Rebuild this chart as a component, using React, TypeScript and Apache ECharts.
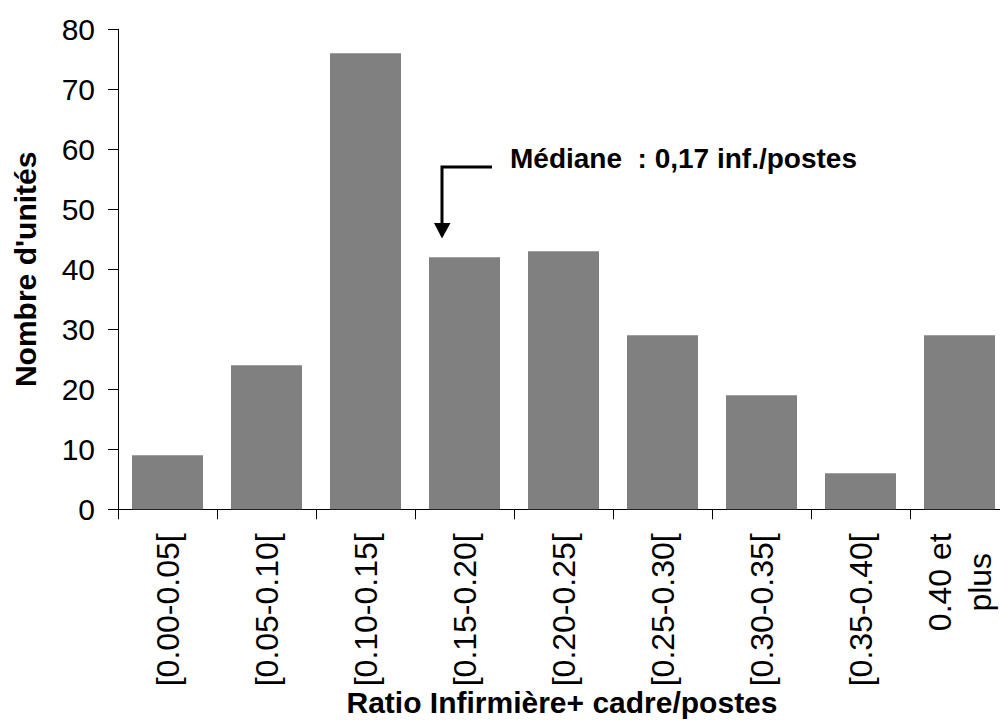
import React, { useEffect, useRef } from "react";
import * as echarts from "echarts";

const categories = [
  "[0.00-0.05[",
  "[0.05-0.10[",
  "[0.10-0.15[",
  "[0.15-0.20[",
  "[0.20-0.25[",
  "[0.25-0.30[",
  "[0.30-0.35[",
  "[0.35-0.40[",
  "0.40 et\nplus",
];
const counts = [9, 24, 76, 42, 43, 29, 19, 6, 29];
const yMin = 0;
const yMax = 80;
const yStep = 10;
const xTitle = "Ratio Infirmière+ cadre/postes";
const yTitle = "Nombre d'unités";
const medianNote = "Médiane  : 0,17 inf./postes";

const FONT = "'Liberation Sans', Arial, Helvetica, sans-serif";

export default function App() {
  const ref = useRef<HTMLDivElement>(null);

  useEffect(() => {
    if (!ref.current) return;
    const chart = echarts.init(ref.current, undefined, { renderer: "svg" });
    chart.setOption({
      animation: false,
      backgroundColor: "#ffffff",
      textStyle: { fontFamily: FONT },
      grid: {
        left: 118,
        top: 29.3,
        width: 891,
        height: 480,
        containLabel: false,
        outerBoundsMode: "none",
      },
      xAxis: {
        type: "category",
        data: categories,
        boundaryGap: true,
        axisLine: { show: true, lineStyle: { color: "#000", width: 1 } },
        axisTick: {
          show: true,
          length: 10,
          alignWithLabel: false,
          lineStyle: { color: "#000", width: 1 },
        },
        axisLabel: {
          interval: 0,
          rotate: 90,
          margin: 24,
          color: "#000",
          fontFamily: FONT,
          fontSize: 32,
          lineHeight: 40,
          formatter: (v: string) =>
            v
              .split("\n")
              .map((l) => `{c|${l}}`)
              .join("\n"),
          rich: {
            c: {
              align: "center",
              fontFamily: FONT,
              fontSize: 32,
              lineHeight: 40,
              color: "#000",
            },
          },
        },
        splitLine: { show: false },
      },
      yAxis: {
        type: "value",
        min: yMin,
        max: yMax,
        interval: yStep,
        name: yTitle,
        nameLocation: "middle",
        nameGap: 78,
        nameRotate: 90,
        nameTextStyle: {
          fontFamily: FONT,
          fontSize: 30,
          fontWeight: "bold",
          color: "#000",
        },
        axisLine: { show: true, lineStyle: { color: "#000", width: 1 } },
        axisTick: { show: true, length: 10, lineStyle: { color: "#000", width: 1 } },
        axisLabel: {
          margin: 23,
          color: "#000",
          fontFamily: FONT,
          fontSize: 30,
        },
        splitLine: { show: false },
      },
      series: [
        {
          type: "bar",
          data: counts,
          barWidth: 71,
          itemStyle: { color: "#808080" },
        },
      ],
      graphic: [
        {
          type: "text",
          x: 562,
          y: 702,
          style: {
            text: xTitle,
            x: 0,
            y: 0,
            font: `bold 30px ${FONT}`,
            fill: "#000",
            align: "center",
            verticalAlign: "middle",
          },
        },
        {
          type: "text",
          x: 510,
          y: 158,
          style: {
            text: medianNote,
            x: 0,
            y: 0,
            font: `bold 28px ${FONT}`,
            fill: "#000",
            verticalAlign: "middle",
          },
        },
        {
          type: "polyline",
          shape: {
            points: [
              [492, 167],
              [442, 167],
              [442, 226],
            ],
          },
          style: { stroke: "#000", lineWidth: 3, fill: "none" },
        },
        {
          type: "polygon",
          shape: {
            points: [
              [434, 223],
              [450.5, 223],
              [442, 238.5],
            ],
          },
          style: { fill: "#000" },
        },
      ],
    });
    return () => chart.dispose();
  }, []);

  return (
    <div
      ref={ref}
      style={{ position: "absolute", left: 0, top: 0, width: 1000, height: 720 }}
    />
  );
}
